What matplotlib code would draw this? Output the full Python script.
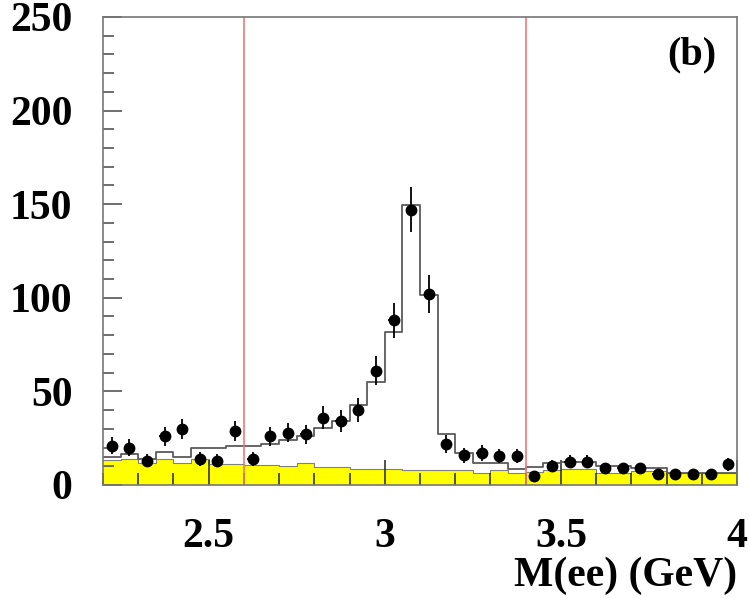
import numpy as np
import matplotlib
matplotlib.use("Agg")
import matplotlib.pyplot as plt
from matplotlib.ticker import MultipleLocator

# bin edges of the M(ee) histogram (GeV)
edges = np.round(np.arange(2.20, 4.0001, 0.05), 3)
centers = edges[:-1] + 0.025

# data counts per bin
data = [21, 20, 13, 26, 30, 14, 13, 29, 14, 26, 28, 27, 36, 34, 40, 61, 88, 147,
        102, 22, 16, 17, 15.5, 15.5, 5, 10, 12.5, 12.5, 9, 9, 9, 6, 6, 6, 6, 11]
# total expectation (open histogram)
total = [15, 16.5, 14, 17.5, 15, 19.5, 19.5, 21, 21, 22, 24, 26, 30.5, 34, 42.5, 55,
         81.5, 149.5, 101.5, 27, 17, 12, 11.6, 8.5, 9.5, 12, 12.5, 12.5, 10, 10, 9,
         9, 6.5, 6.5, 6.5, 6.5]
# background (yellow histogram)
background = [13.5, 14, 12, 14, 11.5, 14, 11, 11, 10.5, 10.7, 10, 12, 9.4, 9.6, 8.6,
              8.4, 8.4, 8.2, 8.0, 8.0, 8.0, 6.3, 8.2, 6.6, 7, 8, 8.5, 8.4, 6.2, 6.2,
              7.6, 7.2, 6.2, 6.2, 6.2, 6.2]
cut_lines = [2.6, 3.4]

plt.rcParams["font.family"] = ["Liberation Serif", "DejaVu Serif"]
plt.rcParams["font.weight"] = "bold"

fig = plt.figure(figsize=(7.49, 5.98), dpi=100)
ax = fig.add_axes([0.1375, 0.189, 0.8465, 0.7826])

bg = np.append(background, background[-1])
tot = np.append(total, total[-1])

ax.fill_between(edges, 0, bg, step="post", color="#ffff00", lw=0, zorder=1)
ax.step(edges, bg, where="post", color="#808080", lw=0.8, zorder=2)
ax.step(edges, tot, where="post", color="#5a5a5a", lw=1.3, zorder=3)

for x in cut_lines:
    ax.axvline(x, color="#f07878", lw=1.2, zorder=4)

ax.errorbar(centers, data, yerr=np.sqrt(data), xerr=0.015, fmt="o", color="black",
            ms=7.5, elinewidth=1.3, capsize=0, zorder=6)

ax.set_xlim(2.2, 4.0)
ax.set_ylim(0, 250)
ax.xaxis.set_major_locator(MultipleLocator(0.5))
ax.xaxis.set_minor_locator(MultipleLocator(0.1))
ax.yaxis.set_major_locator(MultipleLocator(50))
ax.yaxis.set_minor_locator(MultipleLocator(10))
ax.set_xticks([2.5, 3.0, 3.5, 4.0])
ax.set_xticklabels(["2.5", "3", "3.5", "4"])

ax.tick_params(axis="x", which="major", direction="in", length=18, width=1.2,
               color="#333333", labelsize=30, pad=24)
ax.tick_params(axis="x", which="minor", direction="in", length=9, width=1.2,
               color="#333333")
ax.tick_params(axis="y", which="major", direction="in", length=14, width=1.2,
               color="#555555", labelsize=30, pad=22)
ax.tick_params(axis="y", which="minor", direction="in", length=8, width=1.2,
               color="#555555")
ax.set_axisbelow(False)

for s in ax.spines.values():
    s.set_color("#777777")
    s.set_linewidth(1.2)
    s.set_zorder(7)

ax.set_xlabel("M(ee) (GeV)", fontsize=30, fontweight="bold", loc="right", labelpad=0)
ax.text(0.968, 0.919, "(b)", transform=ax.transAxes, fontsize=29, fontweight="bold",
        ha="right", va="center")

fig.savefig("out.png", dpi=100)
